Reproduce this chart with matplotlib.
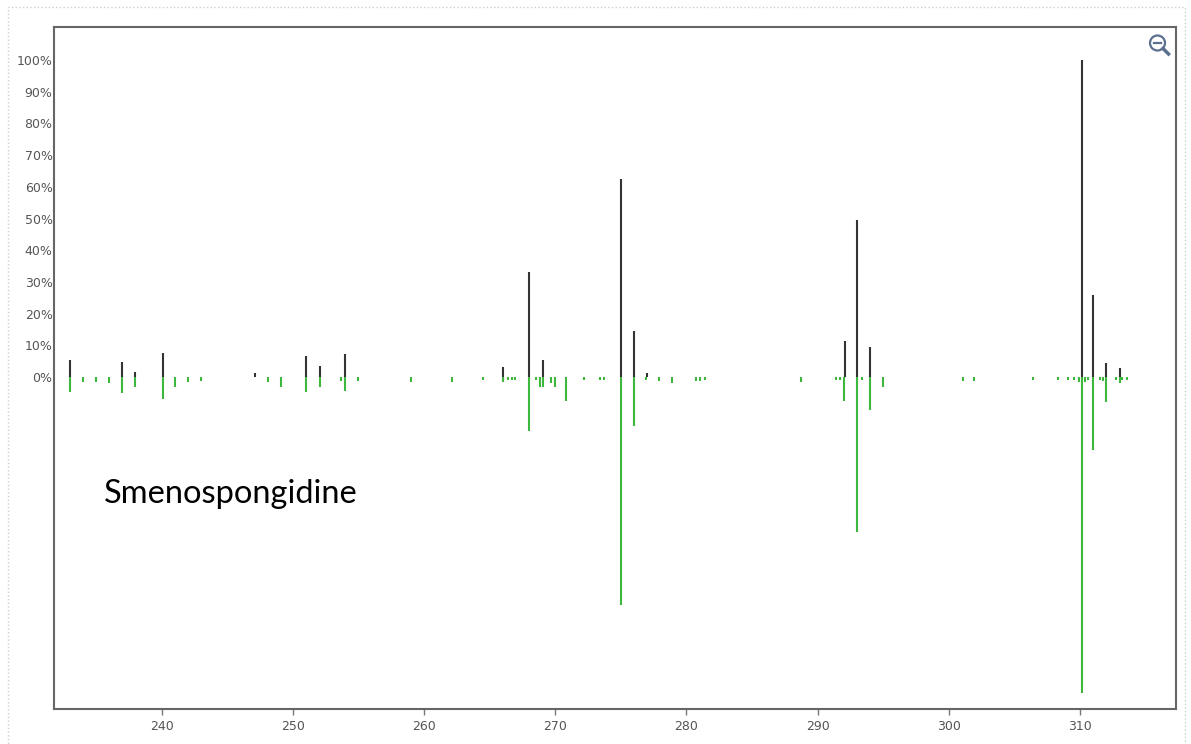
import matplotlib.pyplot as plt
from matplotlib.patches import Rectangle, Circle
from matplotlib.lines import Line2D

# measured spectrum (upper half, relative intensity %)
sample_mz = [233.0, 237.0, 238.0, 240.1, 247.1, 251.0, 252.1, 254.0,
             266.0, 268.0, 269.1, 275.0, 276.0, 277.0,
             292.1, 293.0, 294.0, 310.1, 311.0, 312.0, 313.0]
sample_int = [5.4, 4.7, 1.6, 7.6, 1.4, 6.6, 3.5, 7.3,
              3.2, 33.0, 5.4, 62.5, 14.5, 1.3,
              11.4, 49.5, 9.5, 100.0, 26.0, 4.4, 3.0]

# library spectrum (mirrored below the axis)
ref_mz = [233.0, 234.0, 235.0, 236.0, 237.0, 238.0, 240.1, 241.0, 242.0, 243.0,
          248.1, 249.1, 251.0, 252.1, 253.7, 254.0, 255.0, 259.0, 262.1, 264.5,
          266.0, 266.4, 266.7, 266.9, 268.0, 268.5, 268.8, 269.1, 269.7, 270.0,
          270.8, 272.2, 273.4, 273.7, 275.0, 276.0, 276.9, 277.9, 278.9, 280.7,
          281.0, 281.4, 288.7, 291.4, 291.7, 292.0, 293.0, 293.4, 294.0, 295.0,
          301.1, 301.9, 306.4, 308.3, 309.1, 309.5, 309.9, 310.1, 310.4, 310.6,
          311.0, 311.5, 311.7, 312.0, 312.7, 313.0, 313.2, 313.6]
ref_int = [4.7, 1.6, 1.6, 1.9, 5.0, 3.2, 7.0, 3.0, 1.6, 1.3,
           1.6, 3.2, 4.7, 3.0, 1.3, 4.4, 1.3, 1.6, 1.6, 0.8,
           1.6, 1.0, 1.0, 1.0, 17.0, 0.8, 3.0, 3.0, 2.0, 3.0,
           7.5, 0.8, 0.8, 0.8, 72.0, 15.5, 0.8, 1.3, 2.0, 1.3,
           1.3, 0.8, 1.6, 0.8, 0.8, 7.5, 49.0, 0.8, 10.4, 3.0,
           1.3, 1.3, 0.8, 0.8, 0.8, 0.8, 1.5, 99.5, 1.5, 1.0,
           23.0, 1.0, 1.3, 8.0, 0.8, 2.0, 1.0, 0.8]

compound = 'Smenospongidine'
x_ticks = [240, 250, 260, 270, 280, 290, 300, 310]
y_ticks = [0, 10, 20, 30, 40, 50, 60, 70, 80, 90, 100]

fig = plt.figure(figsize=(11.91, 7.44), dpi=100)

# dotted frame around the whole panel
fig.patches.append(Rectangle((0.007, -0.01), 0.988, 1.0, transform=fig.transFigure,
                             fill=False, edgecolor='#cfcfcf', linestyle=':', linewidth=1.0))

ax = fig.add_axes([0.0453, 0.047, 0.9421, 0.9167])

ax.vlines(sample_mz, 0, sample_int, colors='#333333', linewidth=1.5)
ax.vlines(ref_mz, 0, [-v for v in ref_int], colors='#3db83d', linewidth=1.5)

ax.set_xlim(231.8, 317.3)
ax.set_ylim(-104.7, 110.4)

ax.set_xticks(x_ticks)
ax.set_xticklabels([str(t) for t in x_ticks])
ax.set_yticks(y_ticks)
ax.set_yticklabels([f'{t}%' for t in y_ticks])

ax.tick_params(axis='x', length=4, width=1, color='#777777', labelcolor='#555555',
               labelsize=9, pad=4)
ax.tick_params(axis='y', length=0, labelcolor='#555555', labelsize=9, pad=1)

for side in ['left', 'right', 'top', 'bottom']:
    ax.spines[side].set_color('#666666')
    ax.spines[side].set_linewidth(1.5)

ax.text(104 / 1191, 1 - 494 / 744, compound, transform=fig.transFigure,
        fontsize=23.5, family=['Lato', 'DejaVu Sans'], color='black', va='center', ha='left')

# zoom-out magnifier icon in the corner (positions in inches)
icon = '#5b6f8f'
cx, cy = 11.575, 7.445 - 0.435
fig.patches.append(Circle((cx, cy), 0.075, transform=fig.dpi_scale_trans, fill=False,
                          edgecolor=icon, linewidth=1.6))
fig.lines.append(Line2D([cx - 0.035, cx + 0.035], [cy, cy], transform=fig.dpi_scale_trans,
                        color=icon, linewidth=1.6))
fig.lines.append(Line2D([cx + 0.055, cx + 0.11], [cy - 0.055, cy - 0.11],
                        transform=fig.dpi_scale_trans, color=icon, linewidth=2.5))

fig.savefig('out.png', dpi=100)
